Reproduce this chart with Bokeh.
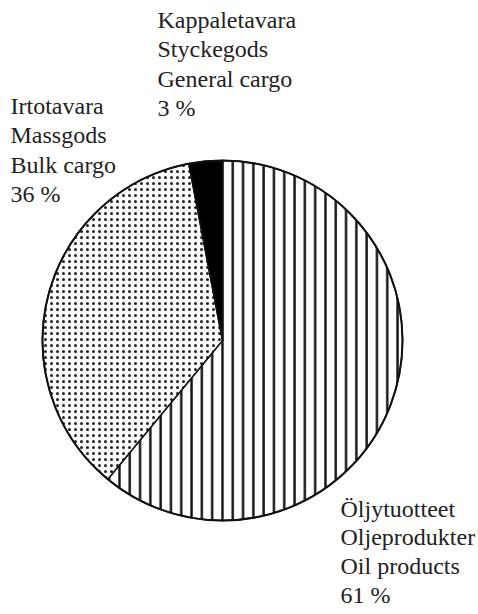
import math
from bokeh.plotting import figure
from bokeh.models import Range1d
from bokeh.core.properties import value
from bokeh.embed import file_html
from bokeh.resources import INLINE

# data
categories = ["Oil products", "Bulk cargo", "General cargo"]
shares = [61, 36, 3]
label_lines = [
    ["Öljytuotteet", "Oljeprodukter", "Oil products", "61 %"],
    ["Irtotavara", "Massgods", "Bulk cargo", "36 %"],
    ["Kappaletavara", "Styckegods", "General cargo", "3 %"],
]

# styles / layout
fills = ["white", "white", "black"]
hatches = ["|", ".", " "]
label_pos = [(340, 508), (10, 105), (157, 19)]  # left x, first baseline (image px, compensated)
line_gap = [28.7, 29.5, 29.5]
W, H = 478, 614
cx, cy, R = 222, 340, 180

def Y(yimg):
    return H - yimg

p = figure(width=W, height=H, output_backend="svg", toolbar_location=None,
           x_range=Range1d(0, W), y_range=Range1d(0, H), min_border=0)
p.axis.visible = False
p.grid.visible = False
p.outline_line_color = None
p.background_fill_color = "white"
p.border_fill_color = "white"

total = sum(shares)
starts, ends = [], []
a = math.pi / 2
for s in shares:
    starts.append(a)
    a -= s / total * 2 * math.pi
    ends.append(a)

for i in range(len(shares)):
    kw = {}
    if hatches[i] == "|":
        kw = dict(hatch_pattern="|", hatch_scale=10.3, hatch_weight=2.4, hatch_color="#111")
    elif hatches[i] == ".":
        kw = dict(hatch_pattern=".", hatch_scale=6, hatch_weight=1.2, hatch_color="#222")
    p.wedge(x=cx, y=Y(cy), radius=R, start_angle=starts[i], end_angle=ends[i],
            direction="clock", fill_color=fills[i], line_color="#111", line_width=1.5, **kw)

p.circle(x=cx, y=Y(cy), radius=R, fill_color=None, line_color="#111", line_width=2)

for i, lines in enumerate(label_lines):
    lx, ly = label_pos[i]
    xs = [lx] * len(lines)
    ys = [Y(ly + line_gap[i] * k) for k in range(len(lines))]
    p.text(x=xs, y=ys, text=lines, text_font=value("Liberation Serif"),
           text_font_size="24px", text_color="#222", text_baseline="alphabetic",
           text_align="left")

open("out.html", "w").write(file_html(p, INLINE))
